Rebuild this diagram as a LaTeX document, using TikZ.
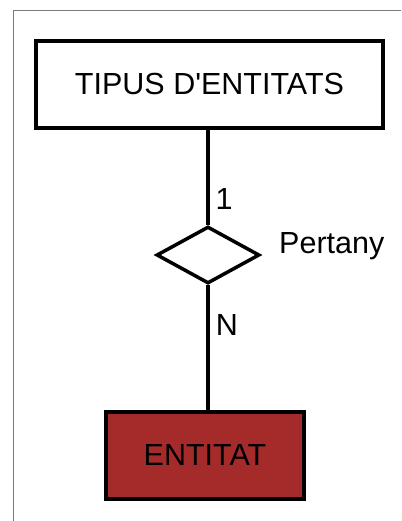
\documentclass[tikz,border=0pt]{standalone}
\usepackage{fontspec}
\setmainfont{Liberation Sans}
\usetikzlibrary{shapes.geometric}
\definecolor{entred}{HTML}{A52A2A}
\definecolor{framegray}{HTML}{7A7A7A}
\begin{document}
\begin{tikzpicture}[x=1bp,y=-1bp,
  lbl/.style={font=\fontsize{30.5bp}{32bp}\selectfont, inner sep=0pt},
  entbox/.style={draw=black, line width=4.5bp, rectangle, inner sep=0pt, minimum height=87bp, font=\fontsize{30.5bp}{32bp}\selectfont},
  relbox/.style={draw=black, line width=3.5bp, diamond, inner sep=0pt, minimum width=103bp, minimum height=57bp, fill=white},
  conn/.style={draw=black, line width=3.5bp}]
\useasboundingbox (0,0) rectangle (401,521);
\fill[white] (0,0) rectangle (401,521);
\draw[framegray, line width=1bp] (13.5,521) -- (13.5,10.5) -- (401,10.5);
\node[entbox, minimum width=347bp] (tipus) at (209.5,84.5) {TIPUS D\textquotesingle ENTITATS};
\node[entbox, minimum width=198bp, fill=entred] (ent) at (205,455.5) {ENTITAT};
\node[relbox] (rel) at (208,255) {};
\draw[conn] (rel.north) -- (rel.north |- tipus.south);
\draw[conn] (rel.south) -- (rel.south |- ent.north);
\node[lbl] (one) at (224,199) {1};
\node[lbl] (n) at (227,325) {N};
\node[lbl, anchor=west] (pert) at (279,246) {Pertany};
\end{tikzpicture}
\end{document}
